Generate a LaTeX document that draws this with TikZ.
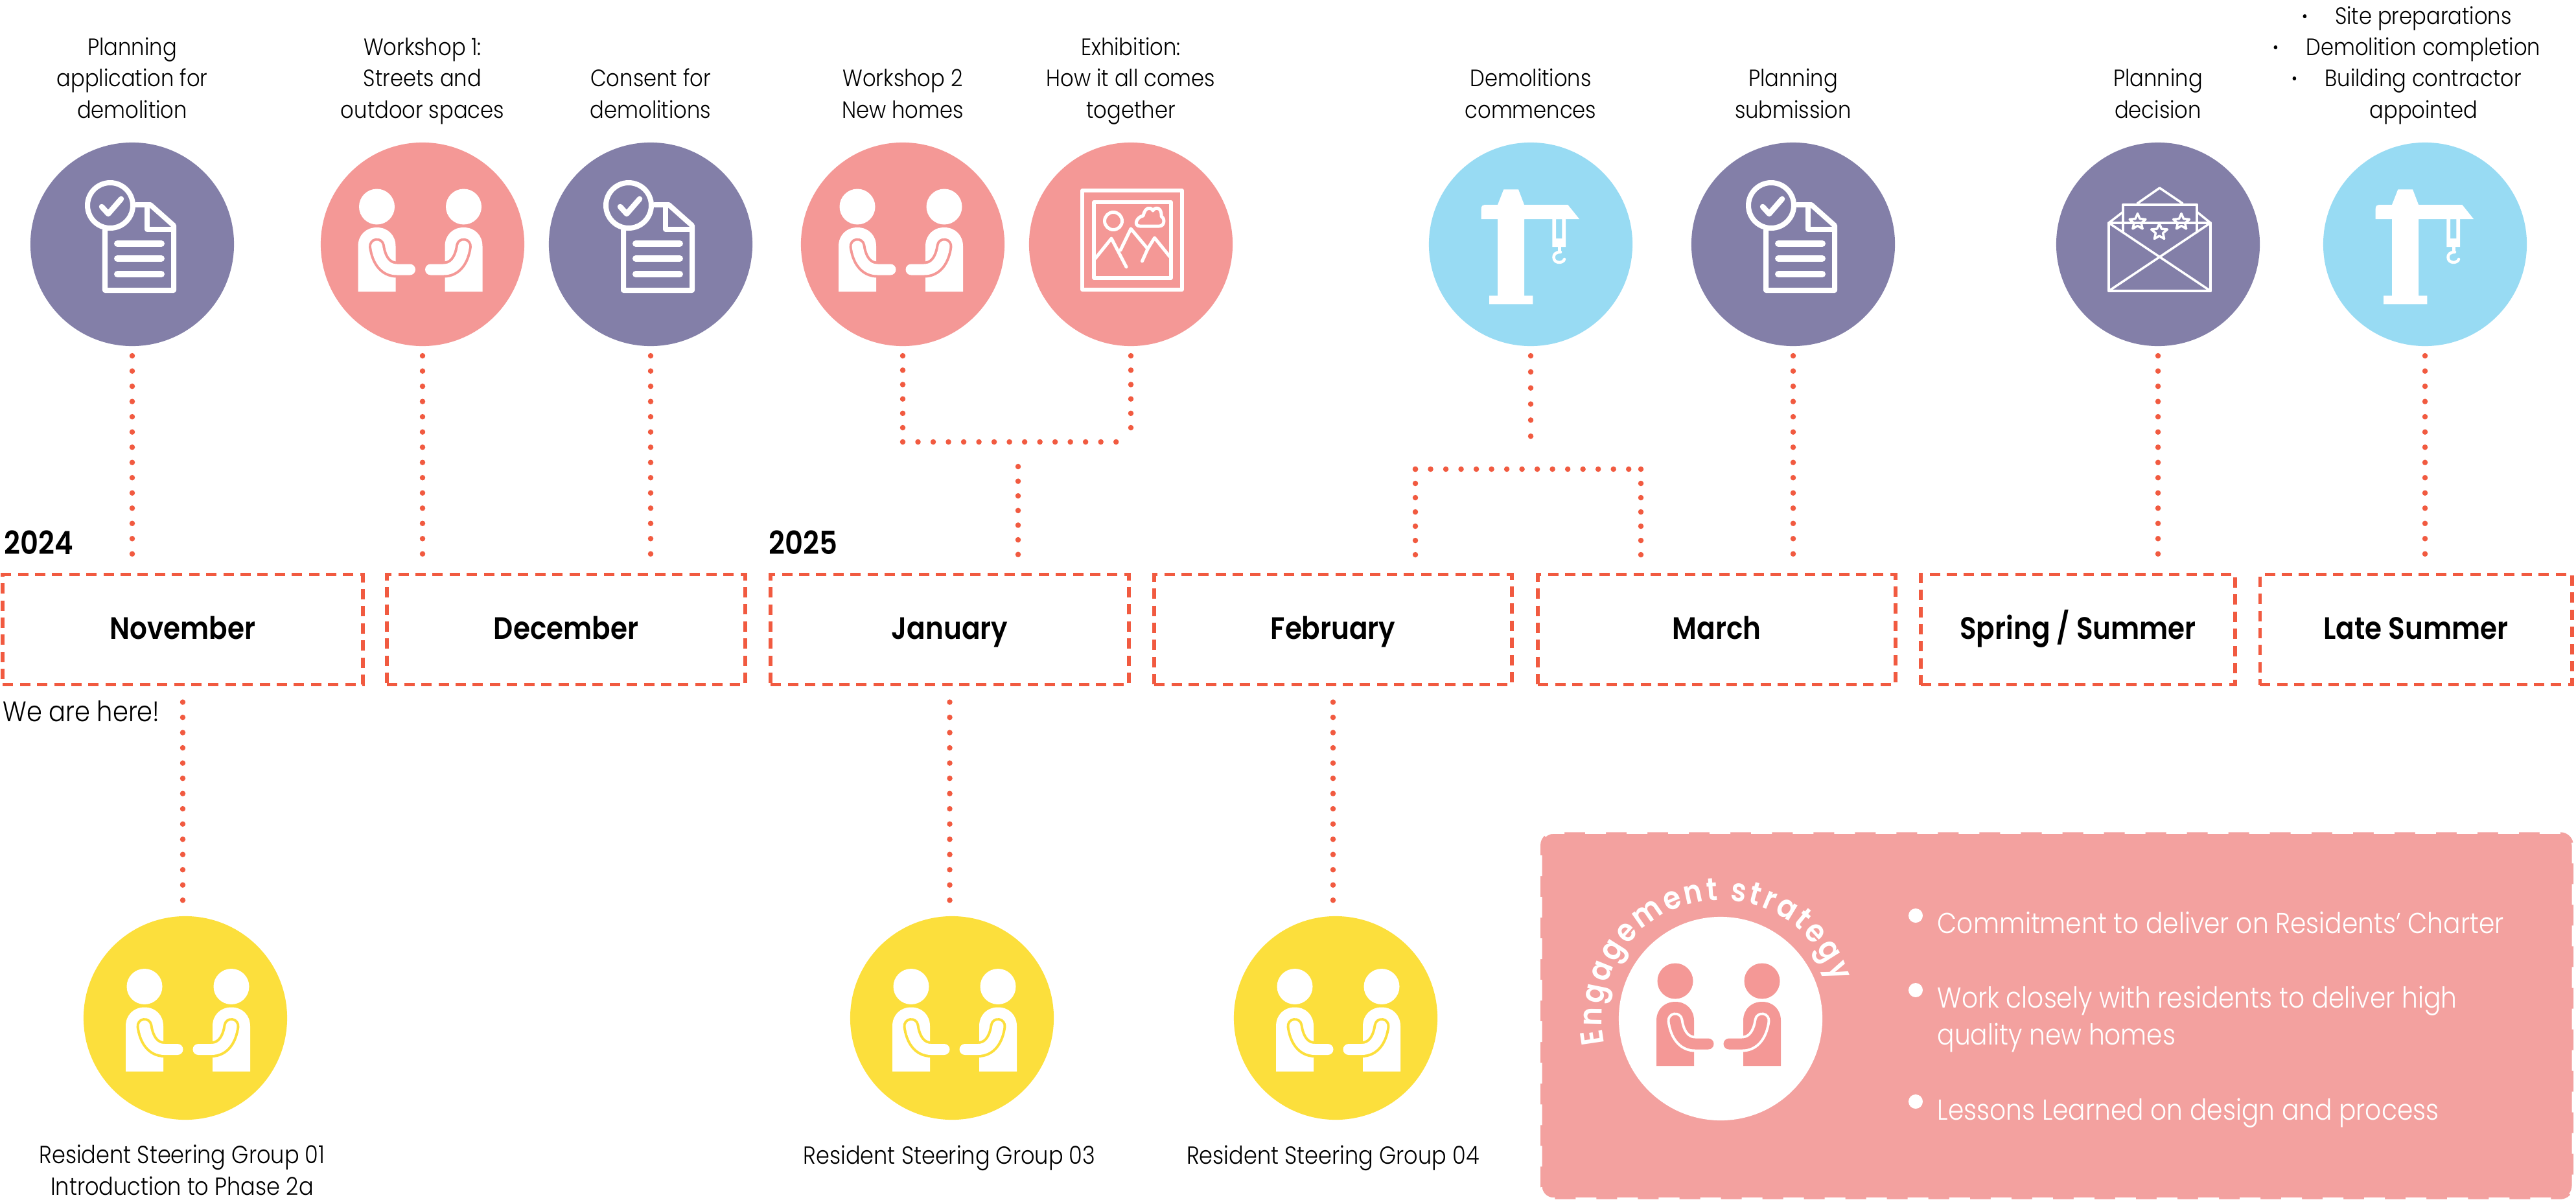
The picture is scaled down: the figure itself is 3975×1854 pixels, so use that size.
\documentclass[tikz,border=0pt]{standalone}
\usepackage{fontspec}
\setmainfont{Poppins Light}[FakeStretch=0.88,BoldFont={Poppins SemiBold},BoldFeatures={FakeStretch=0.88}]
\usetikzlibrary{positioning,decorations.text}

\definecolor{morado}{HTML}{837FA8}
\definecolor{rosa}{HTML}{F49896}
\definecolor{celeste}{HTML}{98DBF3}
\definecolor{amarillo}{HTML}{FCDF3C}
\definecolor{panelrosa}{HTML}{F3A19F}
\definecolor{rojo}{HTML}{F15A40}

\tikzset{
	hito/.style={circle, minimum size=3.14cm, inner sep=0pt, outer sep=0pt},
	dotline/.style={rojo, line width=0.085cm, line cap=round, dash pattern=on 0cm off #1cm, shorten <=0.15cm, shorten >=0.285cm},
	dotline/.default=0.235,
	monthbox/.style={draw=rojo, line width=0.058cm, dash pattern=on 0.16cm off 0.104cm, minimum height=1.7cm, text height=0.39cm, text depth=0.1cm, inner sep=0pt, outer sep=0pt, font=\fontsize{13.6}{17}\selectfont\bfseries},
	tag/.style={align=center, inner sep=0pt, anchor=base, font=\fontsize{10.4}{13.66}\selectfont},
	lowtag/.style={tag, font=\fontsize{10.85}{13.66}\selectfont},
	yeartag/.style={inner sep=0pt, anchor=base west, font=\fontsize{14}{16}\selectfont\bfseries},
	paneltag/.style={text=white, align=left, inner sep=0pt, anchor=base west, font=\fontsize{12.65}{16.2}\selectfont},
	iconline/.style={white, line join=round, line cap=round}
}

% Documento con sello
\newcommand{\docicon}{
	\draw[iconline, line width=0.08cm] (-42,-22) -- (-42,71) -- (64,71) -- (64,-29) -- (28,-61) -- (6,-61);
	\draw[iconline, line width=0.08cm] (23,-61) -- (23,-23) -- (64,-23);
	\draw[iconline, line width=0.08cm] (-34,-60) circle (35);
	\draw[iconline, line width=0.085cm] (-47,-58) -- (-37,-47) -- (-17,-70);
	\draw[iconline, line width=0.1cm] (-23,-1) -- (45,-1);
	\draw[iconline, line width=0.1cm] (-23,22) -- (45,22);
	\draw[iconline, line width=0.1cm] (-23,46) -- (45,46);
}

% Una persona: cuerpo, cabeza y brazo
\newcommand{\personicon}[2]{
	\fill[#1] (-67,-58) circle (27.5);
	\fill[#1] (-96,73) -- (-96,3) .. controls (-96,-14) and (-84,-26) .. (-67,-26) .. controls (-50,-26) and (-38,-14) .. (-38,3) -- (-38,73) -- cycle;
	\draw[#2, line width=0.25cm, line cap=round] (-67,3) .. controls (-64,24) and (-54,39) .. (-36,39) -- (-16,39);
	\draw[#1, line width=0.17cm, line cap=round] (-67,3) .. controls (-64,24) and (-54,39) .. (-36,39) -- (-16,39);
}
\newcommand{\peopleicon}[2]{
	\personicon{#1}{#2}
	\begin{scope}[xscale=-1]
		\personicon{#1}{#2}
	\end{scope}
}

% Cuadro con paisaje
\newcommand{\frameicon}{
	\draw[iconline, line width=0.055cm] (-75,-83) rectangle (79,70);
	\draw[iconline, line width=0.055cm] (-57,-65) rectangle (62,52);
	\draw[iconline, line width=0.05cm] (-27,-36) circle (13.5);
	\draw[iconline, line width=0.05cm] (14,-28) -- (44,-28) .. controls (52,-28) and (53,-40) .. (47,-43) .. controls (48,-58) and (37,-58) .. (34,-52) .. controls (31,-58) and (22,-58) .. (19,-44) .. controls (8,-42) and (4,-28) .. (14,-28) -- cycle;
	\draw[iconline, line width=0.05cm] (-55,22) -- (-30,-9) -- (-7,35);
	\draw[iconline, line width=0.05cm] (-16,9) -- (0,-24) -- (26,7) -- (17.5,26);
	\draw[iconline, line width=0.05cm] (26,7) -- (36.6,-10) -- (60,19);
}

% Grua
\newcommand{\craneicon}{
	\fill[white] (-41.7,-84.7) -- (-19,-84.7) -- (-10,-61) -- (57.3,-61) -- (75,-39) -- (-10,-39) -- (-10,79.3) -- (3.3,79.3) -- (3.3,92.3) -- (-64,92.3) -- (-64,79.3) -- (-51,79.3) -- (-51,-39) -- (-76.3,-39) -- (-76.3,-55) .. controls (-76.3,-59) and (-74,-61) .. (-71,-61) -- (-51,-61) -- cycle;
	\fill[white, even odd rule] (33.3,-39) rectangle (54,4) (39,-39) rectangle (48.3,-9);
	\fill[white] (41.7,4) rectangle (46.7,12);
	\draw[white, line width=0.045cm, line cap=round] (46,12) .. controls (38,12) and (35.5,16) .. (35.5,20) .. controls (35.5,30) and (50,30) .. (52,23);
}

% Sobre con estrellas
\newcommand{\staricon}{
	\draw[iconline, line width=0.035cm] (0,-13) -- (3.5,-4.8) -- (12.4,-4) -- (5.6,1.8) -- (7.6,10.5) -- (0,6) -- (-7.6,10.5) -- (-5.6,1.8) -- (-12.4,-4) -- (-3.5,-4.8) -- cycle;
}
\newcommand{\lettericon}{
	\draw[iconline, line width=0.045cm] (-76,-33) rectangle (81,72);
	\draw[iconline, line width=0.035cm] (-76,-33) -- (81,72);
	\draw[iconline, line width=0.035cm] (81,-33) -- (-76,72);
	\draw[iconline, line width=0.035cm] (-76,-33) -- (-54,-50);
	\draw[iconline, line width=0.035cm] (81,-33) -- (60,-50);
	\draw[iconline, line width=0.035cm] (-32,-63) -- (2.5,-87) -- (38,-63);
	\draw[iconline, line width=0.045cm] (-54,-19) -- (-54,-61) -- (60,-61) -- (60,-19);
	\begin{scope}[shift={(-31.5,-34.5)}] \staricon \end{scope}
	\begin{scope}[shift={(2,-19)}] \staricon \end{scope}
	\begin{scope}[shift={(36,-34.5)}] \staricon \end{scope}
}

\newcommand{\sitept}[1]{\textbf{·}\hspace{.42cm}#1\hspace{.52cm}\mbox{}}

\begin{document}
\begin{tikzpicture}[x=0.01cm, y=-0.01cm]
	\useasboundingbox (0,0) rectangle (3975,1854);

	% Meses
	\node[monthbox, minimum width=5.55cm] (nov) at (282,971.5) {November};
	\node[monthbox, minimum width=5.52cm] (dec) at (873.5,971.5) {December};
	\node[monthbox, minimum width=5.52cm] (jan) at (1465.5,971.5) {January};
	\node[monthbox, minimum width=5.51cm] (feb) at (2057,971.5) {February};
	\node[monthbox, minimum width=5.51cm] (mar) at (2649,971.5) {March};
	\node[monthbox, minimum width=4.84cm] (spring) at (3206.5,971.5) {Spring / Summer};
	\node[monthbox, minimum width=4.81cm] (late) at (3728,971.5) {Late Summer};

	\node[yeartag] (yearA) at (6,855) {2024};
	\node[yeartag] (yearB) at (1186,855) {2025};
	\node[tag, anchor=base west, font=\fontsize{12.4}{15}\selectfont] (here) at (4,1113) {We are here!};

	% Circulos de arriba
	\node[hito, fill=morado] (planA) at (204,377) {};
	\node[hito, fill=rosa] (workA) at (652,377) {};
	\node[hito, fill=morado] (consent) at (1004,377) {};
	\node[hito, fill=rosa] (workB) at (1393,377) {};
	\node[hito, fill=rosa] (expo) at (1745,377) {};
	\node[hito, fill=celeste] (demA) at (2362,377) {};
	\node[hito, fill=morado] (planB) at (2767,377) {};
	\node[hito, fill=morado] (decision) at (3330,377) {};
	\node[hito, fill=celeste] (demB) at (3742,377) {};

	% Circulos de abajo
	\node[hito, fill=amarillo] (grpA) at (286,1571) {};
	\node[hito, fill=amarillo] (grpB) at (1469,1571) {};
	\node[hito, fill=amarillo] (grpC) at (2061,1571) {};

	% Iconos
	\begin{scope}[shift={(204,377)}] \docicon \end{scope}
	\begin{scope}[shift={(1004,377)}] \docicon \end{scope}
	\begin{scope}[shift={(2767,377)}] \docicon \end{scope}
	\begin{scope}[shift={(648.5,377)}] \peopleicon{white}{rosa} \end{scope}
	\begin{scope}[shift={(1390,377)}] \peopleicon{white}{rosa} \end{scope}
	\begin{scope}[shift={(1745,377)}] \frameicon \end{scope}
	\begin{scope}[shift={(2362,377)}] \craneicon \end{scope}
	\begin{scope}[shift={(3742,377)}] \craneicon \end{scope}
	\begin{scope}[shift={(3330,377)}] \lettericon \end{scope}
	\begin{scope}[shift={(290,1580.5)}] \peopleicon{white}{amarillo} \end{scope}
	\begin{scope}[shift={(1473,1580.5)}] \peopleicon{white}{amarillo} \end{scope}
	\begin{scope}[shift={(2065,1580.5)}] \peopleicon{white}{amarillo} \end{scope}

	% Textos de arriba
	\node[tag] (lblplanA) at (204,182) {Planning\\application for\\demolition};
	\node[tag] (lblworkA) at (652,182) {Workshop 1:\\Streets and\\outdoor spaces};
	\node[tag] (lblconsent) at (1004,182) {Consent for\\demolitions};
	\node[tag] (lblworkB) at (1393,182) {Workshop 2\\New homes};
	\node[tag] (lblexpo) at (1745,182) {Exhibition:\\How it all comes\\together};
	\node[tag] (lbldemA) at (2362,182) {Demolitions\\commences};
	\node[tag] (lblplanB) at (2767,182) {Planning\\submission};
	\node[tag] (lbldecision) at (3330,182) {Planning\\decision};
	\node[tag] (lbldemB) at (3740,182) {\sitept{Site preparations}\\\sitept{Demolition completion}\\\sitept{Building contractor}\\appointed};

	% Textos de abajo
	\node[lowtag] (lblgrpA) at (281,1844) {Resident Steering Group 01\\Introduction to Phase 2a};
	\node[lowtag] (lblgrpB) at (1465,1796) {Resident Steering Group 03};
	\node[lowtag] (lblgrpC) at (2057,1796) {Resident Steering Group 04};

	% Conectores
	\draw[dotline] (planA) -- (planA |- nov.north);
	\draw[dotline] (workA) -- (workA |- dec.north);
	\draw[dotline] (consent) -- (consent |- dec.north);
	\draw[dotline] (planB) -- (planB |- mar.north);
	\draw[dotline] (decision) -- (decision |- spring.north);
	\draw[dotline] (demB) -- (demB |- late.north);

	\coordinate (janjoin) at (1571,682);
	\draw[dotline=0.2217, shorten >=0cm] (workB) -- (workB |- janjoin);
	\draw[dotline=0.2217, shorten >=0cm] (expo) -- (expo |- janjoin);
	\draw[dotline, shorten <=0cm, shorten >=0cm] (workB |- janjoin) -- (expo |- janjoin);
	\draw[dotline=0.226, shorten <=0.38cm] (janjoin) -- (janjoin |- jan.north);

	\coordinate (febjoin) at (2362,724);
	\coordinate (febleft) at (2184,724);
	\coordinate (febright) at (2532,724);
	\draw[dotline=0.248, shorten >=0.26cm] (demA) -- (febjoin);
	\draw[dotline, shorten <=0cm, shorten >=0cm] (febleft) -- (febright);
	\draw[dotline=0.22, shorten <=0cm, shorten >=0.28cm] (febleft) -- (febleft |- feb.north);
	\draw[dotline=0.22, shorten <=0cm, shorten >=0.28cm] (febright) -- (febright |- mar.north);

	\draw[dotline, shorten <=0.27cm, shorten >=0.23cm] (nov) -- (nov |- grpA.north);
	\draw[dotline, shorten <=0.27cm, shorten >=0.23cm] (jan) -- (jan |- grpB.north);
	\draw[dotline, shorten <=0.27cm, shorten >=0.23cm] (feb) -- (feb |- grpC.north);

	% Panel de estrategia
	\node[fill=panelrosa, draw=white, line width=0.05cm, dash pattern=on 0.32cm off 0.32cm, rounded corners=0.2cm, minimum width=15.93cm, minimum height=5.66cm, inner sep=0pt] (panel) at (3174,1567.5) {};
	\node[hito, fill=white] (strategy) at (2655,1572) {};
	\begin{scope}[shift={(2652,1572)}] \peopleicon{rosa}{white} \end{scope}
	\path[decorate, decoration={text along path, text align={fit to path}, text={|\fontsize{14}{17}\selectfont\bfseries\color{white}|Engagement strategy}}] (2655,1572) ++(168:183) arc[start angle=168, end angle=342, radius=183];

	\fill[white] (2956,1413) circle (11);
	\fill[white] (2956,1528) circle (11);
	\fill[white] (2956,1700) circle (11);
	\node[paneltag] (ptA) at (2989,1440) {Commitment to deliver on Residents’ Charter};
	\node[paneltag] (ptB) at (2989,1612) {Work closely with residents to deliver high\\quality new homes};
	\node[paneltag] (ptC) at (2989,1728) {Lessons Learned on design and process};
\end{tikzpicture}
\end{document}
